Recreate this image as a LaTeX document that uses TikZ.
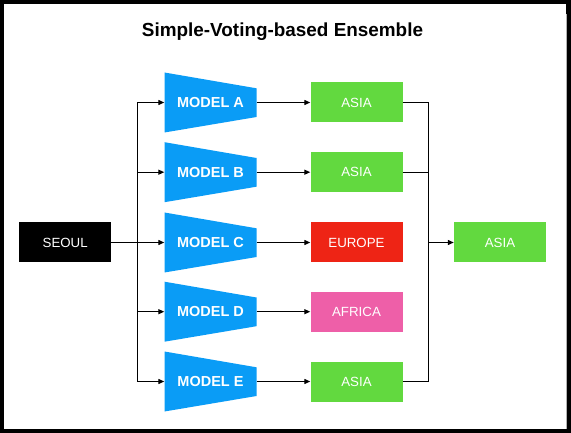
\documentclass[tikz,border=0pt]{standalone}
\usepackage{fontspec}
\setmainfont{Liberation Sans}
\usetikzlibrary{arrows.meta}
\definecolor{modelblue}{HTML}{0A9CF6}
\definecolor{asiagreen}{HTML}{62D93F}
\definecolor{eured}{HTML}{EE2415}
\definecolor{afpink}{HTML}{EE5FA8}
\tikzset{
  conn/.style={line width=1.2pt, black},
  arr/.style={conn, -{Triangle[length=6pt,width=5pt]}},
  modelbox/.style={minimum width=92pt, minimum height=60pt, inner sep=0pt,
    text=white, font=\fontsize{14.5pt}{16pt}\selectfont\bfseries,
    path picture={\fill[modelblue] (path picture bounding box.north west)
      -- ([yshift=-15.8pt]path picture bounding box.north east)
      -- ([yshift=15.5pt]path picture bounding box.south east)
      -- (path picture bounding box.south west) -- cycle;}},
  resbox/.style={minimum width=92pt, minimum height=40pt, inner sep=0pt,
    text=white, font=\fontsize{13.3pt}{15pt}\selectfont},
}
\begin{document}
\begin{tikzpicture}[x=1pt,y=-1pt]
\fill[black] (0,0) rectangle (571,433);
\fill[white] (4,4) rectangle (566,429);
\draw[gray!60, line width=0.8pt] (566.4,14) -- (566.4,429);
\useasboundingbox (0,0) rectangle (571,433);

\node[anchor=base, font=\fontsize{18.9pt}{22pt}\selectfont\bfseries] (title) at (282.5,36.7) {Simple-Voting-based Ensemble};

\node[resbox, fill=black] (seoul) at (65.2,242.5) {SEOUL};

\node[modelbox] (ma) at (210.5,102.5) {MODEL A};
\node[modelbox] (mb) at (210.5,172.2) {MODEL B};
\node[modelbox] (mc) at (210.5,242.5) {MODEL C};
\node[modelbox] (md) at (210.5,311.7) {MODEL D};
\node[modelbox] (me) at (210.5,381.5) {MODEL E};

\node[resbox, fill=asiagreen] (ra) at (356.5,102.5) {ASIA};
\node[resbox, fill=asiagreen] (rb) at (356.5,172.2) {ASIA};
\node[resbox, fill=eured] (rc) at (356.5,242.5) {EUROPE};
\node[resbox, fill=afpink] (rd) at (356.5,311.7) {AFRICA};
\node[resbox, fill=asiagreen] (re) at (356.5,381.5) {ASIA};

\node[resbox, fill=asiagreen] (final) at (500,242.5) {ASIA};

\coordinate (ls) at (137.5,242.5);
\coordinate (rs) at (428.3,242.5);

\draw[arr] (seoul) -- (mc);
\draw[arr] (ls) |- (ma.west);
\draw[arr] (ls) |- (mb.west);
\draw[arr] (ls) |- (md.west);
\draw[arr] (ls) |- (me.west);

\draw[arr] (ma) -- (ra);
\draw[arr] (mb) -- (rb);
\draw[arr] (mc) -- (rc);
\draw[arr] (md) -- (rd);
\draw[arr] (me) -- (re);

\draw[conn] (ra.east) -| (rs);
\draw[conn] (rb.east) -| (rs);
\draw[conn] (re.east) -| (rs);
\draw[arr] (rs) -- (final);
\end{tikzpicture}
\end{document}
